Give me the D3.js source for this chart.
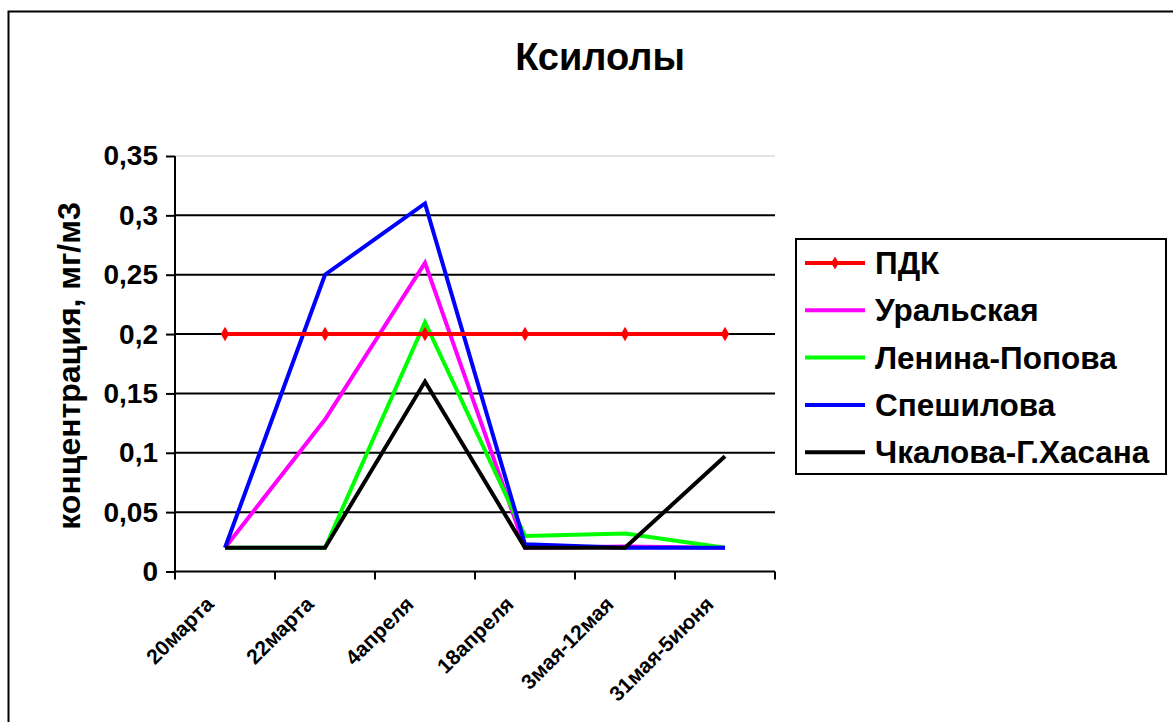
<!DOCTYPE html>
<html><head><meta charset="utf-8">
<script src="https://cdn.jsdelivr.net/npm/d3@7"></script>
<style>body{margin:0;background:#fff}text{font-family:Arial,"Liberation Sans",sans-serif;font-weight:bold}</style>
</head><body><svg id="c" width="1173" height="722"></svg>
<script>
const categories = ["20марта","22марта","4апреля","18апреля","3мая-12мая","31мая-5июня"];
const seriesNames = ["ПДК","Уральская","Ленина-Попова","Спешилова","Чкалова-Г.Хасана"];
const seriesColors = ["#ff0000","#ff00ff","#00ff00","#0000ff","#000000"];
const pdk = [0.2,0.2,0.2,0.2,0.2,0.2];
const uralskaya = [0.02,0.128,0.26,0.02,0.021,0.02];
const leninaPopova = [0.02,0.02,0.21,0.03,0.032,0.02];
const speshilova = [0.02,0.25,0.31,0.023,0.02,0.02];
const chkalova = [0.02,0.02,0.16,0.02,0.02,0.097];
const yTicks = [0,0.05,0.1,0.15,0.2,0.25,0.3,0.35];
const yTickLabels = ["0","0,05","0,1","0,15","0,2","0,25","0,3","0,35"];

const series = [pdk,uralskaya,leninaPopova,speshilova,chkalova];
const svg = d3.select("#c");
svg.append("rect").attr("x",8.5).attr("y",11.5).attr("width",1180).attr("height",720)
  .attr("fill","none").attr("stroke","#000").attr("stroke-width",2);

const L=175,R=775,T=156,B=571.5;
const x = d3.scaleBand().domain(categories).range([L,R]);
const y = d3.scaleLinear().domain([0,0.35]).range([B,T]);

// gridlines
svg.append("g").selectAll("line").data(yTicks.filter(d=>d>0)).join("line")
  .attr("x1",L).attr("x2",R).attr("y1",d=>y(d)).attr("y2",d=>y(d))
  .attr("stroke",d=>d===0.35?"#c8c8c8":"#000").attr("stroke-width",d=>d===0.35?1:2);

// y axis
const ya = svg.append("g").attr("transform",`translate(${L},0)`)
  .call(d3.axisLeft(y).tickValues(yTicks).tickFormat((d,i)=>yTickLabels[i]).tickSize(9).tickPadding(8));
ya.select(".domain").attr("stroke","#000").attr("stroke-width",2).attr("d",`M0,${T}V${B}`);
ya.selectAll(".tick line").attr("stroke-width",2);
ya.selectAll("text").attr("font-size",28).attr("font-weight","bold").attr("font-family","Arial, Liberation Sans, sans-serif").attr("fill","#000");

// x axis
const xa = svg.append("g").attr("transform",`translate(0,${B})`)
  .call(d3.axisBottom(x).tickSize(0).tickFormat(""));
xa.select(".domain").attr("stroke","#000").attr("stroke-width",2).attr("d",`M${L},0H${R}`);
const xTickPos = categories.map(c=>x(c)).concat([R]);
xa.selectAll(".xt").data(xTickPos).join("line").attr("class","xt")
  .attr("x1",d=>d).attr("x2",d=>d).attr("y1",0).attr("y2",8).attr("stroke","#000").attr("stroke-width",2);
xa.selectAll(".xl").data(categories).join("text").attr("class","xl")
  .attr("transform",c=>`translate(${x(c)+x.bandwidth()/2-10},${34}) rotate(-45)`)
  .attr("text-anchor","end").attr("font-size",21).attr("fill","#000").text(c=>c);

// lines
const line = d3.line().x((d,i)=>x(categories[i])+x.bandwidth()/2).y(d=>y(d));
const order = [1,2,3,4,0];
order.forEach(k=>{
  svg.append("path").datum(series[k]).attr("d",line).attr("fill","none")
    .attr("stroke",seriesColors[k]).attr("stroke-width",4).attr("stroke-linejoin","miter");
});
// PDK markers
svg.append("g").selectAll("path").data(pdk).join("path")
  .attr("d",d3.symbol(d3.symbolDiamond,60)())
  .attr("transform",(d,i)=>`translate(${x(categories[i])+x.bandwidth()/2},${y(d)})`)
  .attr("fill","#ff0000");

// title
svg.append("text").attr("x",600).attr("y",70).attr("text-anchor","middle").attr("font-size",38).text("Ксилолы");
// y label
svg.append("text").attr("transform","translate(80,366) rotate(-90)").attr("text-anchor","middle")
  .attr("font-size",32).text("концентрация, мг/м3");

// legend
const lg = svg.append("g");
lg.append("rect").attr("x",796).attr("y",239).attr("width",370).attr("height",235)
  .attr("fill","#fff").attr("stroke","#000").attr("stroke-width",2);
seriesNames.forEach((n,i)=>{
  const yy = 263 + i*47.3;
  lg.append("line").attr("x1",805).attr("x2",865).attr("y1",yy).attr("y2",yy)
    .attr("stroke",seriesColors[i]).attr("stroke-width",4);
  if(i===0) lg.append("path").attr("d",d3.symbol(d3.symbolDiamond,50)()).attr("transform",`translate(835,${yy})`).attr("fill","#ff0000");
  lg.append("text").attr("x",875).attr("y",yy+11).attr("font-size",31.5).text(n);
});
</script></body></html>
